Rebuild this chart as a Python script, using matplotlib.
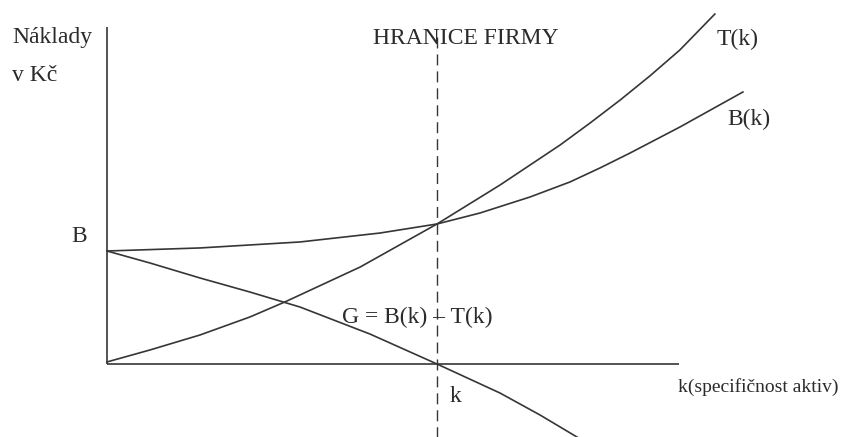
import matplotlib
matplotlib.use("Agg")
import matplotlib.pyplot as plt

plt.rcParams['font.family'] = ['Liberation Serif', 'DejaVu Serif']
plt.rcParams['lines.scale_dashes'] = False

# ---- data (k = asset specificity, cost in arbitrary units) ----
k_T = [0.0, 1.30, 2.82, 4.33, 5.39, 7.67, 10.0, 11.91, 13.73, 14.64, 15.55, 16.45, 17.36, 18.42]
T_vals = [0.18, 1.24, 2.57, 4.16, 5.49, 8.58, 12.39, 15.84, 19.38, 21.33, 23.36, 25.49, 27.79, 30.97]

k_B = [0.0, 2.82, 5.85, 8.27, 10.0, 11.30, 12.82, 14.03, 14.94, 15.85, 17.36, 19.27]
B_vals = [10.0, 10.27, 10.80, 11.59, 12.39, 13.36, 14.78, 16.11, 17.35, 18.67, 20.97, 24.07]

k_G = [0.0, 1.30, 2.82, 4.33, 5.85, 7.97, 10.0, 11.91, 13.12, 14.24]
G_vals = [10.0, 8.94, 7.61, 6.37, 5.04, 2.65, 0.0, -2.57, -4.51, -6.46]

k_boundary = 10.0
k_axis_end = 17.33
cost_axis_top = 29.8

# ---- layout (pixel mapping) ----
W, H = 853, 437
ox, oy = 107, 364          # origin in pixels
sx, sy = 33.0, 11.3        # pixels per unit

fig = plt.figure(figsize=(W / 100, H / 100), dpi=100)
ax = fig.add_axes([0, 0, 1, 1])
ax.set_xlim(-ox / sx, (W - ox) / sx)
ax.set_ylim((oy - H) / sy, oy / sy)
ax.axis('off')

lc = '#363636'
lw = 1.2
ax.plot([0, 0], [0, cost_axis_top], color=lc, lw=lw, solid_capstyle='butt')
ax.plot([0, k_axis_end], [0, 0], color=lc, lw=lw, solid_capstyle='butt')
ax.plot(k_T, T_vals, color=lc, lw=lw, solid_joinstyle='round')
ax.plot(k_B, B_vals, color=lc, lw=lw, solid_joinstyle='round')
ax.plot(k_G, G_vals, color=lc, lw=lw, solid_joinstyle='round')
ax.plot([k_boundary, k_boundary], [(oy - 37) / sy, (oy - H - 5) / sy],
        color=lc, lw=1.0, dashes=(7.9, 4.3), solid_capstyle='butt')

tc = '#2b2b2b'
fs = 17


def label(px, py, s, size=fs, **kw):
    fig.text(px / W, 1 - py / H, s, fontsize=size, color=tc, va='baseline', ha='left', **kw)


label(12, 43, 'Náklady')
label(12, 81, 'v Kč')
label(373, 44, 'HRANICE FIRMY')
label(717, 45, 'T(k)')
label(727, 125, 'B(k)')
label(71, 242, 'B')
label(342, 323, 'G = B(k) – T(k)')
label(450, 402, 'k')
label(678, 392, 'k(specifičnost aktiv)', size=14)

fig.savefig('out.png', dpi=100, facecolor='white')
